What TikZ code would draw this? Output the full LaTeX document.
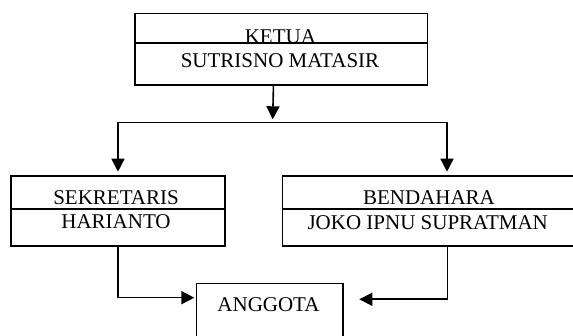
\documentclass[tikz,border=0pt]{standalone}
\usepackage{fontspec}
\setmainfont{Liberation Serif}
\usetikzlibrary{arrows.meta}
\begin{document}
\begin{tikzpicture}[x=1pt,y=-1pt,
  box/.style={draw,line width=1.6pt,rectangle,inner sep=0pt,anchor=north west},
  lbl/.style={font=\fontsize{21}{24}\selectfont,inner sep=0pt,anchor=base},
  arr/.style={line width=1.6pt,-{Triangle[length=13pt,width=13pt]}},
  ln/.style={line width=1.6pt}]
\useasboundingbox (0,0) rectangle (573,336);
\clip (0,0) rectangle (573,336);
% boxes
\node[box,minimum width=292.7pt,minimum height=71.3pt] (ketua) at (134,12.7) {};
\node[box,minimum width=214pt,minimum height=70.5pt] (sek) at (10,175) {};
\node[box,minimum width=293.3pt,minimum height=70.5pt] (ben) at (281.7,175) {};
\node[box,minimum width=146.6pt,minimum height=65pt] (ang) at (195.7,282.7) {};
% dividers
\draw[ln] ([yshift=-30.6pt]ketua.north west) -- ([yshift=-30.6pt]ketua.north east);
\draw[ln] ([yshift=-34.3pt]sek.north west) -- ([yshift=-34.3pt]sek.north east);
\draw[ln] ([yshift=-34.3pt]ben.north west) -- ([yshift=-34.3pt]ben.north east);
% labels
\node[lbl] (tk1) at (280.4,43.5) {KETUA};
\node[lbl] (tk2) at (280,67.5) {SUTRISNO MATASIR};
\node[lbl] (ts1) at (116,205) {SEKRETARIS};
\node[lbl] (ts2) at (116,229) {HARIANTO};
\node[lbl] (tb1) at (429,205) {BENDAHARA};
\node[lbl] (tb2) at (427.7,229.5) {JOKO IPNU SUPRATMAN};
\node[lbl] (ta) at (268.5,312) {ANGGOTA};
% connectors
\coordinate (top) at ([xshift=-7.7pt]ketua.south);
\coordinate (mid) at (272.7,119.3);
\draw[arr] (top) -- (mid);
\coordinate (bl) at (118,122.5);
\coordinate (br) at (447,122.5);
\draw[ln] (bl) -- (br);
\draw[arr] (bl) -- ([yshift=3.3pt]bl |- sek.north);
\draw[arr] (br) -- ([yshift=3.3pt]br |- ben.north);
\coordinate (jl) at (194.3,297.7);
\coordinate (jr) at (359.3,299.3);
\draw[arr] (sek.south) |- (jl);
\draw[arr] ([xshift=18.35pt]ben.south) |- (jr);
\end{tikzpicture}
\end{document}
